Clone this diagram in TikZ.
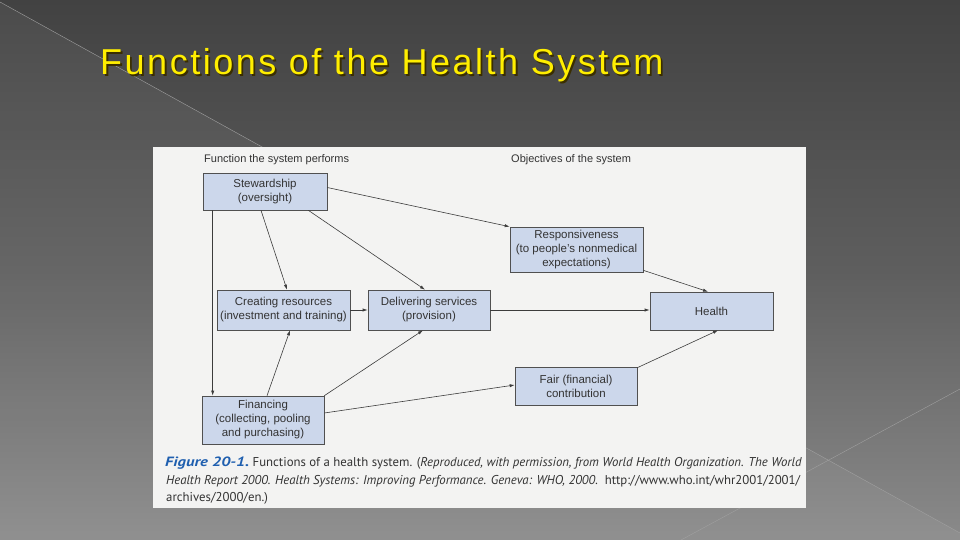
\documentclass[tikz,border=0pt]{standalone}
\usepackage{fontspec}
\setmainfont{Liberation Sans}
\newfontfamily\capfont{PT Sans}
\newfontfamily\titlefont[LetterSpace=7]{Liberation Sans}
\usetikzlibrary{arrows.meta,calc}
\definecolor{bgtop}{HTML}{424242}
\definecolor{bgmid}{HTML}{5E5E5E}
\definecolor{bgbot}{HTML}{8A8A8A}
\definecolor{bgline}{HTML}{A0A0A0}
\definecolor{panelc}{HTML}{F3F3F2}
\definecolor{boxfill}{HTML}{CCD7EB}
\definecolor{boxline}{HTML}{505050}
\definecolor{conn}{HTML}{3C3C3C}
\definecolor{txt}{HTML}{333333}
\definecolor{capblue}{HTML}{1F5FAF}
\definecolor{titley}{HTML}{FFEE00}
\definecolor{shadowc}{HTML}{3A2E00}
\tikzset{
  fbox/.style={draw=boxline, fill=boxfill, line width=0.6pt, inner sep=0pt,
    align=center, font=\fontsize{11.5}{14}\selectfont, text=txt},
  hdr/.style={anchor=west, inner sep=0pt, font=\fontsize{11}{13}\selectfont, text=txt},
  capline/.style={anchor=base west, inner sep=0pt, font=\capfont\fontsize{12.8}{15}\selectfont, text=txt},
  conn/.style={draw=conn, line width=0.6pt, -{Latex[length=5pt,width=3.2pt]}},
  ttl/.style={anchor=base west, inner sep=0pt, font=\titlefont\fontsize{36}{40}\selectfont}
}
\begin{document}
\begin{tikzpicture}[x=1pt,y=-1pt]
\useasboundingbox (0,0) rectangle (960,540);
% background
\shade[top color=bgtop, bottom color=bgbot, middle color=bgmid] (0,0) rectangle (960,540);
\fill[white, opacity=0.05] (0,2) -- (960,533) -- (960,540) -- (0,540) -- cycle;
\draw[bgline, line width=0.4pt] (0,2) -- (960,533);
\draw[bgline, line width=0.4pt] (681,540) -- (960,389);
% title
\node[ttl, text=shadowc] (titleshadow) at (101.8,76.8) {Functions of the Health System};
\node[ttl, text=titley] (title) at (100,75) {Functions of the Health System};
% panel
\fill[panelc] (153,147) rectangle (806,508);
% headers
\node[hdr] (hleft) at (204,160) {Function the system performs};
\node[hdr] (hright) at (511,160) {Objectives of the system};
% boxes
\node[fbox, minimum width=124pt, minimum height=37pt] (stew) at (265,191.5) {Stewardship\\(oversight)};
\node[fbox, minimum width=133pt, minimum height=40pt] (creat) at (283.5,310) {Creating resources\\(investment and training)};
\node[fbox, minimum width=122pt, minimum height=40pt] (deliv) at (429,310) {Delivering services\\(provision)};
\node[fbox, minimum width=133pt, minimum height=45pt] (resp) at (576.5,249.5) {Responsiveness\\(to people’s nonmedical\\expectations)};
\node[fbox, minimum width=123pt, minimum height=38pt] (health) at (711.5,311) {Health};
\node[fbox, minimum width=122pt, minimum height=48pt] (fin) at (263,420) {Financing\\(collecting, pooling\\and purchasing)};
\node[fbox, minimum width=122pt, minimum height=38pt] (fair) at (576,386) {Fair (financial)\\contribution};
% connectors
\draw[conn] ([yshift=4pt]stew.east) -- (resp.north west);
\draw[conn] ([xshift=-4pt]stew.south) -- ([xshift=3.5pt]creat.north);
\draw[conn] ([xshift=-19pt]stew.south east) -- ([xshift=-4pt]deliv.north);
\draw[conn] ([xshift=10pt]stew.south west) -- ([xshift=10pt]stew.south west |- fin.north);
\draw[conn] (creat.east) -- (deliv.west);
\draw[conn] ([xshift=4pt]fin.north) -- ([xshift=6.5pt]creat.south);
\draw[conn] (fin.north east) -- ([xshift=-6pt]deliv.south);
\draw[conn] ([yshift=7pt]fin.east) -- ([yshift=1pt]fair.west);
\draw[conn] (deliv.east) -- (deliv.east -| health.west);
\draw[conn] ([yshift=2pt]resp.south east) -- ([xshift=-3.5pt]health.north);
\draw[conn] ([yshift=-1pt]fair.north east) -- ([xshift=6.5pt]health.south);
% caption
\node[capline] (cap1) at (165,466) {{\color{capblue}\scalebox{1.3}[1.05]{\bfseries\itshape Figure 20-1.}} Functions of a health system. (\textit{Reproduced, with permission, from World Health Organization. The World}};
\node[capline] (cap2) at (166,484) {\textit{Health Report 2000. Health Systems: Improving Performance. Geneva: WHO, 2000.}\ \ http://www.who.int/whr2001/2001/};
\node[capline] (cap3) at (166,501) {archives/2000/en.)};
\end{tikzpicture}
\end{document}
